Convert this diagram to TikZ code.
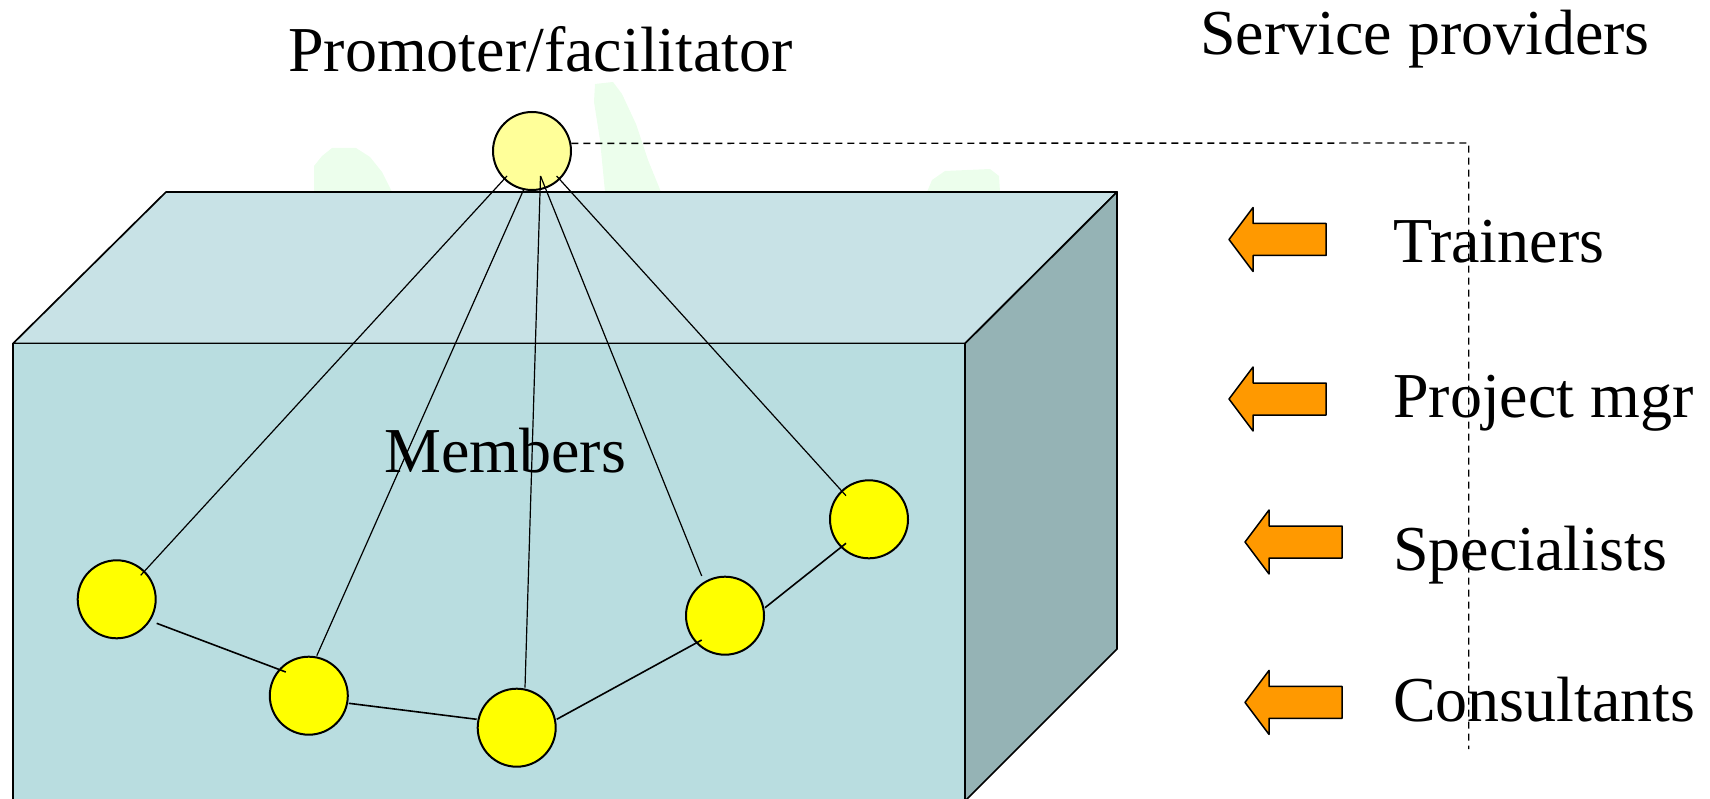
\documentclass[tikz,border=0pt]{standalone}
\usepackage{fontspec}
\setmainfont{LiberationSerif}[Extension=.ttf,UprightFont=*-Regular,BoldFont=*-Bold,ItalicFont=*-Italic]
\usetikzlibrary{calc}
\definecolor{frontc}{RGB}{185,221,224}
\definecolor{topc}{RGB}{200,226,230}
\definecolor{sidec}{RGB}{149,179,181}
\definecolor{promc}{RGB}{255,255,153}
\definecolor{memc}{RGB}{255,255,0}
\definecolor{orangec}{RGB}{255,153,0}
\definecolor{blobc}{RGB}{236,254,236}
\begin{document}
\begin{tikzpicture}[x=1pt,y=-1pt,line join=round,
  member/.style={circle,draw,line width=2pt,fill=memc,minimum size=78pt,inner sep=0pt},
  promoter/.style={member,fill=promc},
  spoke/.style={line width=1.2pt},
  chain/.style={line width=1.6pt},
  face/.style={draw,line width=1.7pt},
  lbl/.style={anchor=base west,inner sep=0pt,font=\fontsize{64}{70}\selectfont},
  blob/.style={fill=blobc},
  larrow/.pic={\draw[fill=orangec,line width=1.5pt] (0,0) -- (24,-32) -- (24,-16) -- (97,-16) -- (97,16) -- (24,16) -- (24,32) -- cycle;}]
\useasboundingbox (0,0) rectangle (1710,799);
% faint background blobs
\fill[blob] (314,192) -- (314,166) -- (322,156) -- (332,148) -- (356,148) -- (370,157) -- (382,172) -- (392,192) -- cycle;
\fill[blob] (605,192) -- (600,140) -- (594,102) -- (595,84) -- (613,82) -- (622,94) -- (636,124) -- (648,160) -- (661,192) -- cycle;
\fill[blob] (927,192) -- (932,180) -- (945,171) -- (990,169) -- (999,176) -- (1000,192) -- cycle;
% box
\path[face,fill=topc] (13,343.5) -- (166,192) -- (1117,192) -- (965,343.5) -- cycle;
\path[face,fill=sidec] (965,343.5) -- (1117,192) -- (1117,649) -- (965,801) -- cycle;
\path[face,fill=frontc] (13,343.5) rectangle (965,810);
% dashed link to service providers
\node[promoter] (p) at (532,151) {};
\coordinate (dc) at (1468.7,143);
\coordinate (de) at (1468.7,749);
\draw[line width=1.4pt,dash pattern=on 7pt off 5pt] (p.11.5) -- (dc) -- (de);
% members
\node[member] (m1) at (116.7,599.3) {};
\node[member] (m2) at (308.8,695.7) {};
\node[member] (m3) at (516.7,727.7) {};
\node[member] (m4) at (725,615.7) {};
\node[member] (m5) at (869,519.3) {};
% spokes
\draw[spoke] ($(p)+(-25,25)$) -- ($(m1)+(24,-24)$);
\draw[spoke] ($(p)+(-8.5,39)$) -- ($(m2)+(8,-40)$);
\draw[spoke] ($(p)+(8.5,25)$) -- ($(m3)+(8.3,-40)$);
\draw[spoke] ($(p)+(8.5,25)$) -- ($(m4)+(-23.3,-39.7)$);
\draw[spoke] ($(p)+(24.6,25)$) -- ($(m5)+(-23,-23.6)$);
% chain
\draw[chain] ($(m1)+(40,24)$) -- ($(m2)+(-23,-23.7)$);
\draw[chain] ($(m2)+(40,7.6)$) -- ($(m3)+(-40,-8.4)$);
\draw[chain] ($(m3)+(40,-8.4)$) -- ($(m4)+(-23.3,24.3)$);
\draw[chain] ($(m4)+(40,-8)$) -- ($(m5)+(-23,24)$);
% labels
\node[lbl] (tprom) at (288,72) {Promoter/facilitator};
\node[lbl] (tserv) at (1200,54.5) {Service providers};
\node[lbl] (tmem) at (384,472) {Members};
\node[lbl] (ttrain) at (1393,263) {Trainers};
\node[lbl] (tproj) at (1393,417) {Project mgr};
\node[lbl] (tspec) at (1393,570) {Specialists};
\node[lbl] (tcons) at (1393,721) {Consultants};
% arrows
\pic at (1229,239.5) {larrow};
\pic at (1229,399) {larrow};
\pic at (1245,542) {larrow};
\pic at (1245,702.4) {larrow};
\end{tikzpicture}
\end{document}
